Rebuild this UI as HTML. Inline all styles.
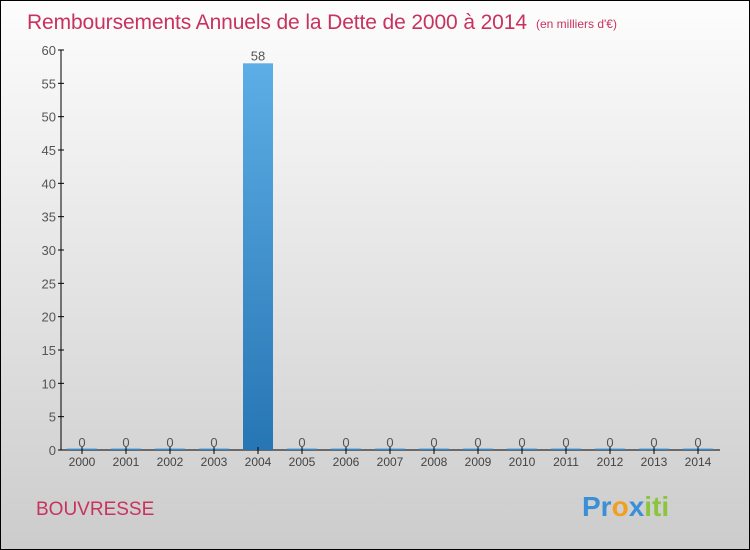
<!DOCTYPE html>
<html><head><meta charset="utf-8"><style>
body{margin:0;width:750px;height:550px;overflow:hidden;font-family:"Liberation Sans",sans-serif}
#c{position:absolute;left:0;top:0;width:748px;height:548px;border:1px solid #000;background:linear-gradient(#fdfdfd,#cccccc)}
</style></head><body>
<div id="c">
<svg id="s" width="750" height="550" style="position:absolute;left:-1px;top:-1px">
<defs><linearGradient id="g" x1="0" y1="0" x2="0" y2="1"><stop offset="0" stop-color="#5dade6"/><stop offset="1" stop-color="#2776b4"/></linearGradient></defs>
<text x="27" y="29" font-size="21" fill="#c8325e" textLength="500">Remboursements Annuels de la Dette de 2000 à 2014</text>
<text x="536" y="28" font-size="12" fill="#c8325e">(en milliers d'€)</text>
<text x="36" y="515" font-size="19" fill="#c8325e">BOUVRESSE</text>
<text x="582" y="516" font-size="28" font-weight="bold"><tspan fill="#3a8fd6">Pr</tspan><tspan fill="#f0a020">o</tspan><tspan fill="#3a8fd6">x</tspan><tspan fill="#8cc43c">iti</tspan></text>
<g id="plot"></g>
</svg></div>
<script>
const categories=["2000","2001","2002","2003","2004","2005","2006","2007","2008","2009","2010","2011","2012","2013","2014"];
const values=[0,0,0,0,58,0,0,0,0,0,0,0,0,0,0];
const yTicks=[0,5,10,15,20,25,30,35,40,45,50,55,60];
const ns="http://www.w3.org/2000/svg",p=document.getElementById('plot');
const x0=60,step=44,yb=450,yt=50,ymax=60;
const y=v=>yb-(yb-yt)*v/ymax, xc=i=>x0+step/2+step*i;
function el(t,a,txt){const e=document.createElementNS(ns,t);for(const k in a)e.setAttribute(k,a[k]);if(txt!==undefined)e.textContent=txt;p.appendChild(e);return e;}
let e=el('line',{x1:61,y1:yt,x2:61,y2:yb,stroke:'#000'});


e=el('line',{x1:61,y1:yb,x2:720,y2:yb,stroke:'#000'});


yTicks.forEach(v=>{
 e=el('line',{x1:58,y1:y(v),x2:64,y2:y(v),stroke:'#000'});
 
 
 e=el('text',{x:56,y:y(v)+5,'text-anchor':'end','font-size':13,fill:'#555'},v);
 
 
});
categories.forEach((c,i)=>{
 const v=values[i],top=y(v);
 e=el('rect',{x:xc(i)-15,y:Math.min(top,yb-1.5),width:30,height:Math.max(yb-top,1.5),fill:'url(#g)'});
 
 
 e=el('line',{x1:xc(i),y1:yb-3,x2:xc(i),y2:yb+4,stroke:'#000'});
 
 
 e=el('text',{x:xc(i),y:466,'text-anchor':'middle','font-size':12,fill:'#444'},c);
 
 
 e=el('text',{x:xc(i),y:Math.min(top,yb)-3,'text-anchor':'middle','font-size':13,fill:'#555'},v);
 
 
});
</script>
</body></html>
